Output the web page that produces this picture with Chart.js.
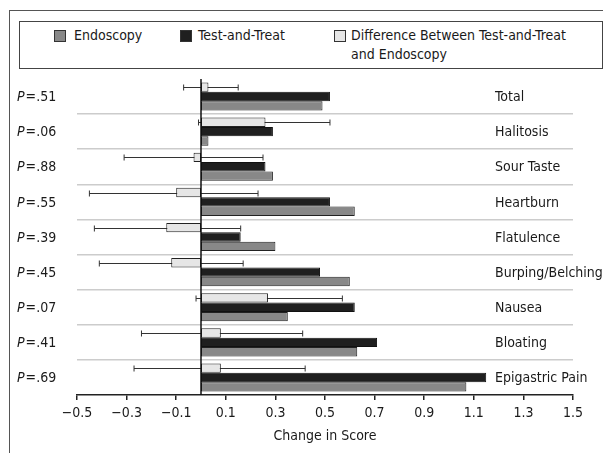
<!DOCTYPE html>
<html><head><meta charset="utf-8">
<script src="https://cdn.jsdelivr.net/npm/chart.js@4"></script>
<style>
html,body{margin:0;padding:0;background:#fff;width:603px;height:453px;overflow:hidden;}
#wrap{position:relative;width:603px;height:453px;font-family:'DejaVu Sans Condensed','Liberation Sans Narrow',sans-serif;color:#1a1a1a;}
#frame{position:absolute;left:9px;top:10px;width:700px;height:600px;border-left:1.5px solid #555;border-top:1.5px solid #555;}
#legend{position:absolute;left:19px;top:21px;width:582px;height:46px;border:1px solid #444;}
.sw{position:absolute;width:10px;height:10px;border:1px solid #333;}
.lt{position:absolute;font-size:14px;line-height:19px;white-space:nowrap;}
canvas{position:absolute;left:0;top:0;}
</style></head>
<body><div id="wrap">
<div id="frame"></div>
<div id="legend"></div>
<div class="sw" style="left:54px;top:30px;background:#888888"></div>
<div class="lt" style="left:74px;top:26px">Endoscopy</div>
<div class="sw" style="left:180px;top:30px;background:#1f1f1f"></div>
<div class="lt" style="left:198px;top:26px">Test-and-Treat</div>
<div class="sw" style="left:334px;top:30px;background:#e6e6e6"></div>
<div class="lt" style="left:351px;top:26px">Difference Between Test-and-Treat<br>and Endoscopy</div>
<canvas id="c" width="603" height="453"></canvas>
</div>
<script>
const categories = ['Total','Halitosis','Sour Taste','Heartburn','Flatulence','Burping/Belching','Nausea','Bloating','Epigastric Pain'];
const pValues = ['.51','.06','.88','.55','.39','.45','.07','.41','.69'];
const endoscopy = [0.49,0.03,0.29,0.62,0.30,0.60,0.35,0.63,1.07];
const testAndTreat = [0.52,0.29,0.26,0.52,0.16,0.48,0.62,0.71,1.15];
const difference = [0.03,0.26,-0.03,-0.10,-0.14,-0.12,0.27,0.08,0.08];
const diffLow = [-0.07,-0.01,-0.31,-0.45,-0.43,-0.41,-0.02,-0.24,-0.27];
const diffHigh = [0.15,0.52,0.25,0.23,0.16,0.17,0.57,0.41,0.42];
const xTicks = [-0.5,-0.3,-0.1,0.1,0.3,0.5,0.7,0.9,1.1,1.3,1.5];

const FONT = "'DejaVu Sans Condensed','Liberation Sans Narrow',sans-serif";

const extras = {
  id:'extras',
  beforeDatasetsDraw(chart){
    const ctx = chart.ctx, xs = chart.scales.x, meta = chart.getDatasetMeta(0);
    ctx.save();
    ctx.strokeStyle = '#333'; ctx.lineWidth = 1;
    for (let i=0;i<categories.length;i++){
      const y = Math.round(meta.data[i].y)+0.5;
      const x1 = xs.getPixelForValue(diffLow[i]), x2 = xs.getPixelForValue(diffHigh[i]);
      ctx.beginPath();
      ctx.moveTo(x1,y); ctx.lineTo(x2,y);
      ctx.moveTo(x1,y-3); ctx.lineTo(x1,y+3);
      ctx.moveTo(x2,y-3); ctx.lineTo(x2,y+3);
      ctx.stroke();
    }
    ctx.restore();
  },
  afterDatasetsDraw(chart){
    const ctx = chart.ctx, xs = chart.scales.x, ys = chart.scales.y, a = chart.chartArea;
    ctx.save();
    const x0 = xs.getPixelForValue(0);
    ctx.strokeStyle = '#111'; ctx.lineWidth = 1.5;
    ctx.beginPath(); ctx.moveTo(x0,a.top); ctx.lineTo(x0,a.bottom); ctx.stroke();
    ctx.fillStyle = '#1a1a1a';
    ctx.textBaseline = 'middle';
    for (let i=0;i<categories.length;i++){
      const y = ys.getPixelForValue(i) + 1;
      ctx.textAlign = 'left';
      ctx.font = 'italic 14px ' + FONT;
      ctx.fillText('P', 17, y);
      const w = ctx.measureText('P').width;
      ctx.font = '14px ' + FONT;
      ctx.fillText('=' + pValues[i], 17 + w + 1, y);
      ctx.fillText(categories[i], 495, y);
    }
    ctx.restore();
  }
};

new Chart(document.getElementById('c'), {
  type:'bar',
  data:{
    labels: categories,
    datasets:[
      {label:'Difference Between Test-and-Treat and Endoscopy', data: difference, backgroundColor:'#e6e6e6', borderColor:'#222', borderWidth:1, borderSkipped:false},
      {label:'Test-and-Treat', data: testAndTreat, backgroundColor:'#1f1f1f', borderColor:'#111', borderWidth:1, borderSkipped:false},
      {label:'Endoscopy', data: endoscopy, backgroundColor:'#888888', borderColor:'#222', borderWidth:1, borderSkipped:false}
    ]
  },
  options:{
    indexAxis:'y',
    responsive:false,
    animation:false,
    events:[],
    layout:{padding:{left:77,right:30,top:79,bottom:0}},
    datasets:{bar:{categoryPercentage:0.8,barPercentage:1.0}},
    plugins:{legend:{display:false},tooltip:{enabled:false}},
    scales:{
      x:{
        type:'linear', min:-0.5, max:1.5,
        afterBuildTicks(s){ s.ticks = xTicks.map(v=>({value:v})); },
        afterFit(s){ s.height = 58; },
        grid:{drawOnChartArea:false, drawTicks:true, tickLength:5, color:'#222', lineWidth:1.5},
        border:{display:true, color:'#222', width:1.5},
        ticks:{padding:5, color:'#1a1a1a', font:{family:FONT,size:14},
          callback(v){ const s = Math.abs(v).toFixed(1); return v < 0 ? '\u2212' + s : s; }},
        title:{display:true, text:'Change in Score', color:'#1a1a1a', font:{family:FONT,size:14}, padding:{top:0,bottom:8}}
      },
      y:{
        type:'category', offset:true,
        afterFit(s){ s.width = 0; },
        grid:{offset:true, drawTicks:false, lineWidth:1.5,
          color(ctx){ return (ctx.index === undefined || ctx.index === 0) ? 'rgba(0,0,0,0)' : '#cccccc'; }},
        border:{display:false},
        ticks:{display:false}
      }
    }
  },
  plugins:[extras]
});
</script>
</body></html>
